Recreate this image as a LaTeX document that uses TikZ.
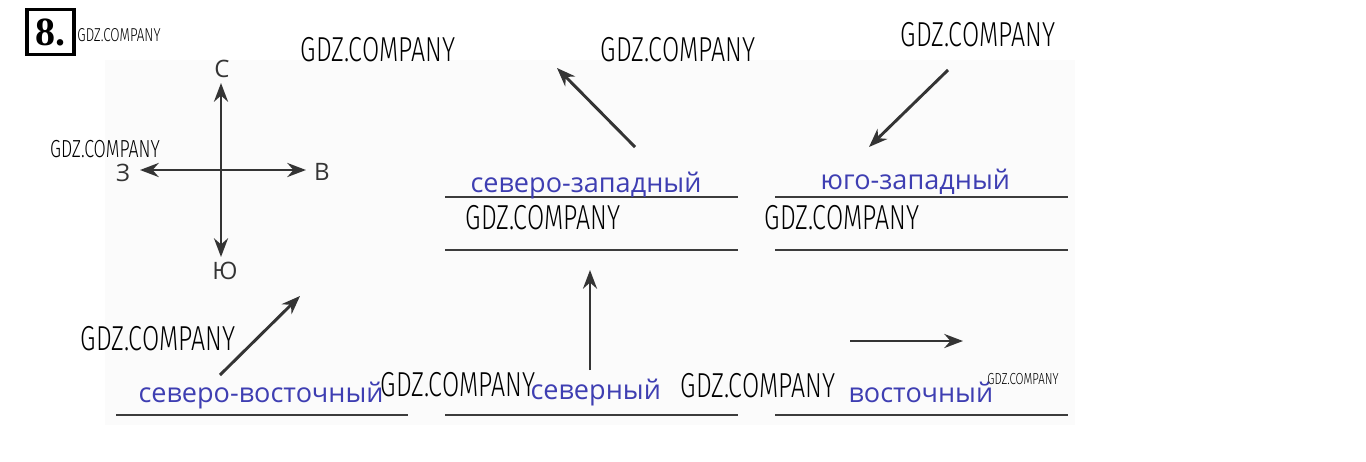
\documentclass[tikz,border=0pt]{standalone}
\usepackage{fontspec}
\setmainfont{Open Sans}
\newfontfamily\wmfont[FakeStretch=0.72]{Fira Sans Light}
\newfontfamily\numfont{Liberation Serif}
\usetikzlibrary{arrows.meta}

\definecolor{inkgray}{RGB}{52,52,52}
\definecolor{wordblue}{RGB}{62,62,178}
\definecolor{rulegray}{RGB}{60,60,60}
\definecolor{scanbg}{RGB}{251,251,251}

\tikzset{every picture/.style={line width=0.75pt}}
\tikzset{
  dirarrow/.style={draw=inkgray, line width=2.2pt, -{Stealth[length=14pt,width=10.5pt]}},
  wordrule/.style={draw=rulegray, line width=1.1pt},
  wordlbl/.style={anchor=base west, inner sep=0pt, text=wordblue, font=\fontsize{20.3}{20.3}\selectfont},
  compasslbl/.style={inner sep=0pt, text=inkgray, font=\fontsize{18}{18}\selectfont},
  wmbig/.style={inner sep=0pt, font=\wmfont\fontsize{26}{26}\selectfont},
  wmmid/.style={inner sep=0pt, font=\wmfont\fontsize{18.5}{18.5}\selectfont},
  wmsmall/.style={inner sep=0pt, font=\wmfont\fontsize{14}{14}\selectfont},
}

\begin{document}
\begin{tikzpicture}[x=0.75pt,y=0.75pt,yscale=-1,xscale=1]
\useasboundingbox (0,0) rectangle (1366,461);

%Shape: Rectangle (scanned page)
\fill [scanbg] (105,60) rectangle (1075,425);

% Number box
\node [draw, line width=2.6pt, inner sep=0pt, minimum width=35pt, minimum height=33.5pt,
  font=\numfont\bfseries\fontsize{30}{30}\selectfont] (num) at (50.5,32) {8.};

%Compass
\coordinate (O) at (221,170);
\coordinate (cN) at (221,83);
\coordinate (cS) at (221,257);
\coordinate (cE) at (306,170);
\coordinate (cW) at (140,170);
\draw [dirarrow] (O) -- (cN);
\draw [dirarrow] (O) -- (cS);
\draw [dirarrow] (O) -- (cE);
\draw [dirarrow] (O) -- (cW);
\node [compasslbl] (lblN) at (222,69) {С};
\node [compasslbl] (lblS) at (225,271) {Ю};
\node [compasslbl] (lblE) at (322,172) {В};
\node [compasslbl] (lblW) at (123,173) {З};

%Straight Lines (north-west)
\coordinate (nwA) at (635,147);
\coordinate (nwB) at (557,68);
\draw [dirarrow] (nwA) -- (nwB);
%Straight Lines (south-west)
\coordinate (swA) at (948,70);
\coordinate (swB) at (869,147);
\draw [dirarrow] (swA) -- (swB);
%Straight Lines (north-east)
\coordinate (neA) at (220,375);
\coordinate (neB) at (300,296);
\draw [dirarrow] (neA) -- (neB);
%Straight Lines (north)
\coordinate (nA) at (590,370);
\coordinate (nB) at (590,270);
\draw [dirarrow] (nA) -- (nB);
%Straight Lines (east)
\coordinate (eA) at (850,341);
\coordinate (eB) at (963,341);
\draw [dirarrow] (eA) -- (eB);

%Rules for the words
\draw [wordrule] (445,197) -- (738,197);
\draw [wordrule] (775,197) -- (1068,197);
\draw [wordrule] (445,250) -- (738,250);
\draw [wordrule] (775,250) -- (1068,250);
\draw [wordrule] (116,415) -- (408,415);
\draw [wordrule] (445,415) -- (738,415);
\draw [wordrule] (775,415) -- (1068,415);

% Text Node
\node [wordlbl] (wNW) at (470,192) {северо-западный};
% Text Node
\node [wordlbl] (wSW) at (820,189) {юго-западный};
% Text Node
\node [wordlbl] (wNE) at (138,402) {северо-восточный};
% Text Node
\node [wordlbl] (wN) at (530,399) {северный};
% Text Node
\node [wordlbl] (wE) at (848,402) {восточный};

% Watermarks
\node [wmsmall] (wm1) at (119,35) {GDZ.COMPANY};
\node [wmbig] (wm2) at (378,50) {GDZ.COMPANY};
\node [wmbig] (wm3) at (678,50) {GDZ.COMPANY};
\node [wmbig] (wm4) at (978,35) {GDZ.COMPANY};
\node [wmmid] (wm5) at (105,149) {GDZ.COMPANY};
\node [wmbig] (wm6) at (543,218) {GDZ.COMPANY};
\node [wmbig] (wm7) at (842,218) {GDZ.COMPANY};
\node [wmbig] (wm8) at (158,339) {GDZ.COMPANY};
\node [wmbig] (wm9) at (458,385) {GDZ.COMPANY};
\node [wmbig] (wm10) at (758,386) {GDZ.COMPANY};
\node [wmsmall, font=\wmfont\fontsize{12}{12}\selectfont] (wm11) at (1023,379) {GDZ.COMPANY};

\end{tikzpicture}
\end{document}
